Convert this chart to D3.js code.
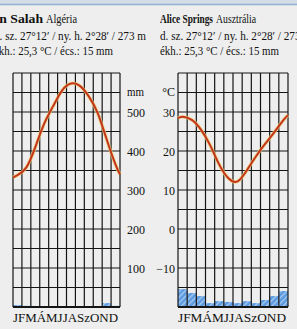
<!DOCTYPE html>
<html lang="hu">
<head>
<meta charset="UTF-8">
<title>Klímadiagramok</title>
<script src="https://d3js.org/d3.v7.min.js"></script>
<style>
    * { margin: 0; padding: 0; box-sizing: border-box; }
    body { background: #edeeed; width: 297px; height: 329px; overflow: hidden; }
    svg { display: block; }
    svg text { font-family: "Liberation Serif", Tinos, "Times New Roman", Times, "Noto Serif", "DejaVu Serif", serif; }
</style>
</head>
<body>
<div id="chart"></div>
<script>
    // havi adatok
    const months = ["J", "F", "M", "Á", "M", "J", "J", "A", "Sz", "O", "N", "D"];
    const mmTicks = [100, 200, 300, 400, 500];
    const tempTicks = [-10, 0, 10, 20, 30];

    const salahTemp = [13.8, 15.8, 21.0, 27.0, 31.5, 35.5, 37.3, 36.7, 34.0, 29.7, 23.0, 16.5];
    const salahTempEdges = [13.2, 14.0];
    const salahPrec = [5, 3, 1, 0, 0, 0, 0, 0, 0, 1, 10, 3];

    const aliceTemp = [28.8, 28.0, 25.5, 21.5, 16.5, 13.0, 12.2, 15.0, 18.6, 21.8, 24.8, 27.9];
    const aliceTempEdges = [28.4, 29.2];
    const alicePrec = [46, 36, 28, 10, 15, 13, 10, 15, 10, 18, 28, 41];

    const panels = [
        { name: "In Salah", country: "Algéria", temp: salahTemp, edges: salahTempEdges, prec: salahPrec,
          textX: -6, nameW: 49, countryW: 31, x0: 13, x1: 120, axis: "mm" },
        { name: "Alice Springs", country: "Ausztrália", temp: aliceTemp, edges: aliceTempEdges, prec: alicePrec,
          textX: 160, nameW: 53, countryW: 40, x0: 178, x1: 288, axis: "C" }
    ];
    const coordLine = "d. sz. 27°12′ / ny. h. 2°28′ / 273 m";
    const statLine = "ékh.: 25,3 °C / écs.: 15 mm";

    const W = 297, H = 329;
    const gridTop = 73, gridBottom = 307;

    const svg = d3.select("#chart").append("svg")
        .attr("width", W)
        .attr("height", H);

    // csíkos kitöltés a csapadékhoz
    const pat = svg.append("defs").append("pattern")
        .attr("id", "hatch")
        .attr("width", 4).attr("height", 4)
        .attr("patternUnits", "userSpaceOnUse")
        .attr("patternTransform", "rotate(45)");
    pat.append("rect").attr("width", 4).attr("height", 4).attr("fill", "#5d9be0");
    pat.append("rect").attr("width", 1.3).attr("height", 4).attr("fill", "#a9cbef");

    // felső kék sáv
    svg.append("rect").attr("x", 0).attr("y", 0).attr("width", W).attr("height", 4).attr("fill", "#d3dde6");
    svg.append("line").attr("x1", 0).attr("x2", W).attr("y1", 4.5).attr("y2", 4.5)
        .attr("stroke", "#8eb0d2").attr("stroke-width", 1.5);

    const mmY = d3.scaleLinear().domain([0, 600]).range([gridBottom, gridTop]);
    const tY = d3.scaleLinear().domain([-20, 40]).range([gridBottom, gridTop]);

    panels.forEach(p => {
        const g = svg.append("g");
        const xb = d3.scaleBand().domain(d3.range(12)).range([p.x0, p.x1]).padding(0);
        const xl = d3.scaleLinear().domain([0, 12]).range([p.x0, p.x1]);

        // cím (keskenyített, mint a nyomtatott Times)
        g.append("text").attr("x", p.textX).attr("y", 23)
            .attr("textLength", p.nameW).attr("lengthAdjust", "spacingAndGlyphs")
            .style("font-size", "11.5px").style("font-weight", "bold").attr("fill", "#111")
            .text(p.name);
        g.append("text").attr("x", p.textX + p.nameW + 3).attr("y", 23)
            .attr("textLength", p.countryW).attr("lengthAdjust", "spacingAndGlyphs")
            .style("font-size", "11.5px").attr("fill", "#111")
            .text(p.country);
        g.append("text").attr("x", p.textX).attr("y", 39.5)
            .attr("textLength", 152).attr("lengthAdjust", "spacingAndGlyphs")
            .style("font-size", "12px").attr("fill", "#111").text(coordLine);
        g.append("text").attr("x", p.textX).attr("y", 55)
            .attr("textLength", 119).attr("lengthAdjust", "spacingAndGlyphs")
            .style("font-size", "12px").attr("fill", "#111").text(statLine);

        // csapadék
        g.selectAll(".prec").data(p.prec).join("rect")
            .attr("x", (d, i) => xb(i))
            .attr("width", xb.bandwidth())
            .attr("y", d => mmY(d))
            .attr("height", d => gridBottom - mmY(d))
            .attr("fill", "url(#hatch)");

        // rács
        g.selectAll(".vline").data(d3.range(13)).join("line")
            .attr("x1", d => xl(d)).attr("x2", d => xl(d))
            .attr("y1", gridTop).attr("y2", gridBottom)
            .attr("stroke", "#151515").attr("stroke-width", 1.2);
        g.selectAll(".hline").data(d3.range(0, 601, 50)).join("line")
            .attr("x1", p.x0).attr("x2", p.x1)
            .attr("y1", d => mmY(d)).attr("y2", d => mmY(d))
            .attr("stroke", "#151515").attr("stroke-width", d => d === 0 ? 1.8 : 1.2);

        // hőmérséklet görbe
        const pts = [[0, p.edges[0]]]
            .concat(p.temp.map((v, i) => [i + 0.5, v]))
            .concat([[12, p.edges[1]]]);
        const line = d3.line().x(d => xl(d[0])).y(d => tY(d[1])).curve(d3.curveNatural);
        g.append("path").attr("d", line(pts)).attr("fill", "none")
            .attr("stroke", "#f0cf6a").attr("stroke-width", 3.6).attr("opacity", 0.7);
        g.append("path").attr("d", line(pts)).attr("fill", "none")
            .attr("stroke", "#c4351d").attr("stroke-width", 2);

        // tengelyfeliratok
        if (p.axis === "mm") {
            g.selectAll(".tick").data(mmTicks).join("text")
                .attr("x", p.x1 + 7).attr("y", d => mmY(d) + 4.5)
                .attr("textLength", 18).attr("lengthAdjust", "spacingAndGlyphs")
                .style("font-size", "12.5px").attr("fill", "#111").text(d => d);
            g.append("text").attr("x", p.x1 + 7).attr("y", mmY(550) + 3)
                .attr("textLength", 17).attr("lengthAdjust", "spacingAndGlyphs")
                .style("font-size", "12.5px").attr("fill", "#111").text("mm");
        } else {
            g.selectAll(".tick").data(tempTicks).join("text")
                .attr("x", p.x0 - 3).attr("y", d => tY(d) + 4.5)
                .attr("text-anchor", "end")
                .style("font-size", "12px").attr("fill", "#111").text(d => d < 0 ? "−" + Math.abs(d) : d);
            g.append("text").attr("x", p.x0 - 3).attr("y", tY(35) + 3)
                .attr("text-anchor", "end")
                .style("font-size", "12px").attr("fill", "#111").text("°C");
        }

        // hónapok
        g.append("text").attr("x", p.x0).attr("y", 322)
            .attr("textLength", p.x1 - p.x0 - 2)
            .attr("lengthAdjust", "spacingAndGlyphs")
            .style("font-size", "13.5px").attr("fill", "#111")
            .text(months.join(""));
    });
</script>
</body>
</html>
